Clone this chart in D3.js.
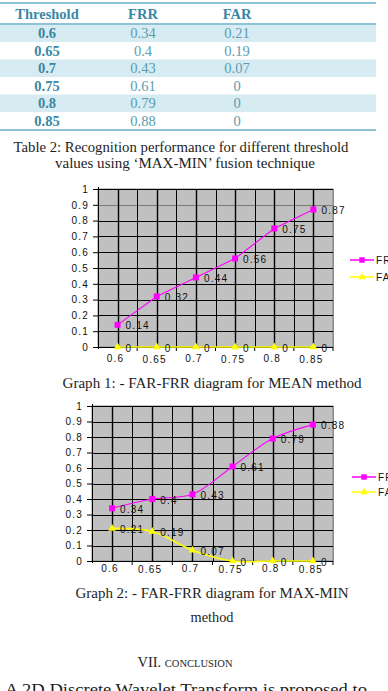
<!DOCTYPE html>
<html><head><meta charset="utf-8">
<script src="https://cdn.jsdelivr.net/npm/d3@7"></script>
<style>
html,body{margin:0;padding:0;background:#fff;overflow:hidden}
svg{display:block}
</style></head>
<body>
<svg id="page" width="388" height="691"></svg>
<script>
// ---------- data ----------
const thresholds = ["0.6", "0.65", "0.7", "0.75", "0.8", "0.85"];
const tableFRR = ["0.34", "0.4", "0.43", "0.61", "0.79", "0.88"];
const tableFAR = ["0.21", "0.19", "0.07", "0", "0", "0"];
const meanFRR = [0.14, 0.32, 0.44, 0.56, 0.75, 0.87];
const meanFAR = [0, 0, 0, 0, 0, 0];
const maxminFRR = [0.34, 0.4, 0.43, 0.61, 0.79, 0.88];
const maxminFAR = [0.21, 0.19, 0.07, 0, 0, 0];
const yTicks = [0, 0.1, 0.2, 0.3, 0.4, 0.5, 0.6, 0.7, 0.8, 0.9, 1];
const seriesNames = ["FRR", "FAR"];

const svg = d3.select("#page");
const serif = "'Liberation Serif','Times New Roman',serif";
const sans = "'Liberation Sans',Arial,sans-serif";

// ---------- table ----------
const tHead = ["Threshold", "FRR", "FAR"];
const colX = [47, 143, 237];
const rowY = d3.scaleBand().domain(d3.range(thresholds.length)).range([24.5, 129.5]);
const tbl = svg.append("g");
tbl.selectAll("rect.shade").data(d3.range(thresholds.length).filter(i => i % 2 === 0))
  .join("rect").attr("x", 0).attr("width", 376)
  .attr("y", i => rowY(i)).attr("height", rowY.bandwidth()).attr("fill", "#d6ebf2");
[3, 24, 130].forEach(yy => tbl.append("line").attr("x1", 0).attr("x2", 376)
  .attr("y1", yy).attr("y2", yy).attr("stroke", "#8ec3d6").attr("stroke-width", 2));
tbl.selectAll("text.h").data(tHead).join("text")
  .attr("x", (d, i) => colX[i]).attr("y", 14).attr("dy", "0.35em")
  .attr("text-anchor", "middle").attr("font-family", serif).attr("font-weight", "bold")
  .attr("font-size", 14.5).attr("fill", "#3a87a3").text(d => d);
thresholds.forEach((t, i) => {
  const cy = rowY(i) + rowY.bandwidth() / 2;
  tbl.append("text").attr("x", colX[0]).attr("y", cy).attr("dy", "0.35em")
    .attr("text-anchor", "middle").attr("font-family", serif).attr("font-weight", "bold")
    .attr("font-size", 14.5).attr("fill", "#3a87a3").text(t);
  tbl.append("text").attr("x", colX[1]).attr("y", cy).attr("dy", "0.35em")
    .attr("text-anchor", "middle").attr("font-family", serif)
    .attr("font-size", 14.5).attr("fill", "#5a9db4").text(tableFRR[i]);
  tbl.append("text").attr("x", colX[2]).attr("y", cy).attr("dy", "0.35em")
    .attr("text-anchor", "middle").attr("font-family", serif)
    .attr("font-size", 14.5).attr("fill", "#5a9db4").text(tableFAR[i]);
});

// ---------- captions ----------
function caption(txt, x, y, size, len) {
  const t = svg.append("text").attr("x", x).attr("y", y).attr("text-anchor", "middle")
    .attr("font-family", serif).attr("font-size", size).attr("fill", "#1e1e1e").text(txt);
  if (len) t.attr("textLength", len).attr("lengthAdjust", "spacingAndGlyphs");
  return t;
}
caption("Table 2: Recognition performance for different threshold", 181, 152, 14, 335);
caption("values using \u2018MAX-MIN\u2019 fusion technique", 185, 168, 14, 260);
caption("Graph 1: - FAR-FRR diagram for MEAN method", 212, 388, 14, 299);
caption("Graph 2: - FAR-FRR diagram for MAX-MIN", 212, 598, 14, 273);
caption("method", 212, 622, 14, 43);
const conc = svg.append("text").attr("x", 185).attr("y", 667).attr("text-anchor", "middle")
  .attr("font-family", serif).attr("fill", "#1e1e1e");
conc.append("tspan").attr("font-size", 14.5).text("VII.  ");
conc.append("tspan").attr("font-size", 10.5).text("CONCLUSION");
caption("A 2D Discrete Wavelet Transform is proposed to", 186, 695, 17, 362);

// ---------- charts ----------
function drawChart(cfg) {
  const g = svg.append("g");
  const x = d3.scaleBand().domain(thresholds).range([cfg.left, cfg.right]);
  const y = d3.scaleLinear().domain([0, 1]).range([cfg.bottom, cfg.top]);
  const bw = x.bandwidth();
  // plot background
  g.append("rect").attr("x", cfg.left).attr("y", cfg.top)
    .attr("width", cfg.right - cfg.left).attr("height", cfg.bottom - cfg.top)
    .attr("fill", "#c0c0c0").attr("stroke", "#8a8a8a").attr("stroke-width", 1);
  // horizontal grid
  g.selectAll("line.hg").data(yTicks.filter(d => d > 0)).join("line")
    .attr("x1", cfg.left).attr("x2", cfg.right)
    .attr("y1", d => Math.round(y(d)) + 0.5).attr("y2", d => Math.round(y(d)) + 0.5)
    .attr("stroke", d => (cfg.grayTick === d ? "#7a7a7a" : "#000")).attr("stroke-width", 1);
  // vertical grid at band edges and centres
  const vpos = [];
  thresholds.forEach(c => { vpos.push(x(c)); vpos.push(x(c) + bw / 2); });
  vpos.push(cfg.right);
  g.selectAll("line.vg").data(vpos.slice(1)).join("line")
    .attr("y1", cfg.top).attr("y2", cfg.bottom)
    .attr("x1", d => Math.round(d) + 0.5).attr("x2", d => Math.round(d) + 0.5)
    .attr("stroke", (d, i) => (i === vpos.length - 2 ? "#8a8a8a" : "#000"))
    .attr("stroke-width", (d, i) => (i % 2 === 0 ? 1.4 : 1));
  // y axis
  const ya = g.append("g").attr("transform", `translate(${cfg.left},0)`)
    .call(d3.axisLeft(y).tickValues(yTicks).tickSize(5).tickPadding(4)
      .tickFormat(d => String(+d.toFixed(1))));
  ya.select(".domain").attr("stroke", "#000").attr("d", `M0.5,${cfg.bottom + 2}V${cfg.top - 2}`);
  ya.selectAll(".tick line").attr("stroke", "#000");
  ya.selectAll(".tick text").attr("font-family", sans).attr("font-size", 10)
    .attr("letter-spacing", "1.2px").attr("fill", "#111");
  // x axis
  g.append("line").attr("x1", cfg.left).attr("x2", cfg.right)
    .attr("y1", cfg.bottom + 0.5).attr("y2", cfg.bottom + 0.5).attr("stroke", "#000");
  g.selectAll("line.xt").data(thresholds.map(c => x(c)).slice(1).concat([cfg.right])).join("line")
    .attr("x1", d => d).attr("x2", d => d)
    .attr("y1", cfg.bottom).attr("y2", cfg.bottom + 4).attr("stroke", "#000");
  g.selectAll("text.xl").data(thresholds).join("text")
    .attr("x", d => x(d) + bw / 2 - 2).attr("y", (d, i) => cfg.bottom + cfg.xLabDy + (i % 2) * 1.5)
    .attr("dy", "0.35em").attr("text-anchor", "middle")
    .attr("font-family", sans).attr("font-size", 10).attr("letter-spacing", "1.2px")
    .attr("fill", "#111").text(d => d);

  const line = d3.line().x((d, i) => x(thresholds[i]) + bw / 2).y(d => y(d))
    .curve(cfg.smooth ? d3.curveCatmullRom.alpha(0.5) : d3.curveLinear);
  const series = [
    { name: seriesNames[0], vals: cfg.frr, color: "#ff00ff", shape: "square" },
    { name: seriesNames[1], vals: cfg.far, color: "#ffff00", shape: "tri" }
  ];
  series.forEach(s => {
    g.append("path").attr("d", line(s.vals)).attr("fill", "none")
      .attr("stroke", s.color).attr("stroke-width", s.shape === "tri" ? 1.6 : 1.1);
  });
  series.forEach(s => {
    const sym = d3.symbol().type(s.shape === "square" ? d3.symbolSquare : d3.symbolTriangle)
      .size(s.shape === "square" ? 36 : 26);
    g.selectAll(null).data(s.vals).join("path")
      .attr("transform", (d, i) => `translate(${x(thresholds[i]) + bw / 2},${y(d)})`)
      .attr("d", sym).attr("fill", s.color);
    g.selectAll(null).data(s.vals).join("text")
      .attr("x", (d, i) => x(thresholds[i]) + bw / 2 + 8).attr("y", d => y(d) + 1)
      .attr("dy", "0.35em").attr("font-family", sans).attr("font-size", 10)
      .attr("letter-spacing", "1.2px").attr("fill", "#111").text(d => String(d));
  });
  // legend (clipped by page edge as in original)
  series.forEach((s, i) => {
    const ly = cfg.legY + i * cfg.legGap;
    g.append("line").attr("x1", cfg.legX).attr("x2", cfg.legX + 24)
      .attr("y1", ly).attr("y2", ly).attr("stroke", s.color).attr("stroke-width", 1.5);
    const sym = d3.symbol().type(s.shape === "square" ? d3.symbolSquare : d3.symbolTriangle)
      .size(s.shape === "square" ? 30 : 24);
    g.append("path").attr("transform", `translate(${cfg.legX + 12},${ly})`).attr("d", sym).attr("fill", s.color);
    g.append("text").attr("x", cfg.legX + 26).attr("y", ly).attr("dy", "0.35em")
      .attr("font-family", sans).attr("font-size", 10).attr("letter-spacing", "1.2px")
      .attr("fill", "#111").text(s.name);
  });
}

drawChart({ left: 98, right: 333, top: 189, bottom: 347, frr: meanFRR, far: meanFAR,
  smooth: false, xLabDy: 11, grayTick: 0.9, legX: 350, legY: 260, legGap: 17 });
drawChart({ left: 92, right: 333, top: 406, bottom: 561, frr: maxminFRR, far: maxminFAR,
  smooth: true, xLabDy: 7, grayTick: null, legX: 352, legY: 477, legGap: 15 });
</script>
</body></html>
